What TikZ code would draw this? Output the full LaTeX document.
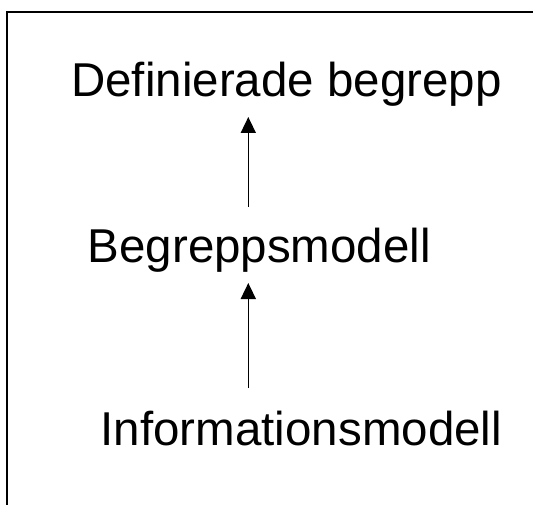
\documentclass[tikz,border=0pt]{standalone}
\usepackage{fontspec}
\setmainfont{Liberation Sans}
\usetikzlibrary{arrows.meta}
\begin{document}
\begin{tikzpicture}[x=1pt,y=-1pt,
  label/.style={anchor=base west,inner sep=0pt,font=\fontsize{47.5}{57}\selectfont},
  uparrow/.style={line width=1.6pt,-{Triangle[width=15pt,length=16pt]}}]
\useasboundingbox (0,0) rectangle (533,505);
\draw[line width=1.8pt] (6.7,505) -- (6.7,11.7) -- (533,11.7);
\node[label] (def) at (71,97) {Definierade begrepp};
\node[label] (beg) at (87.5,263) {Begreppsmodell};
\node[label] (inf) at (100.5,445) {Informationsmodell};
\coordinate (a1s) at (248.3,207);
\coordinate (a1e) at (248.3,117);
\coordinate (a2s) at (248.3,388);
\coordinate (a2e) at (248.3,283);
\draw[uparrow] (a1s) -- (a1e);
\draw[uparrow] (a2s) -- (a2e);
\end{tikzpicture}
\end{document}
